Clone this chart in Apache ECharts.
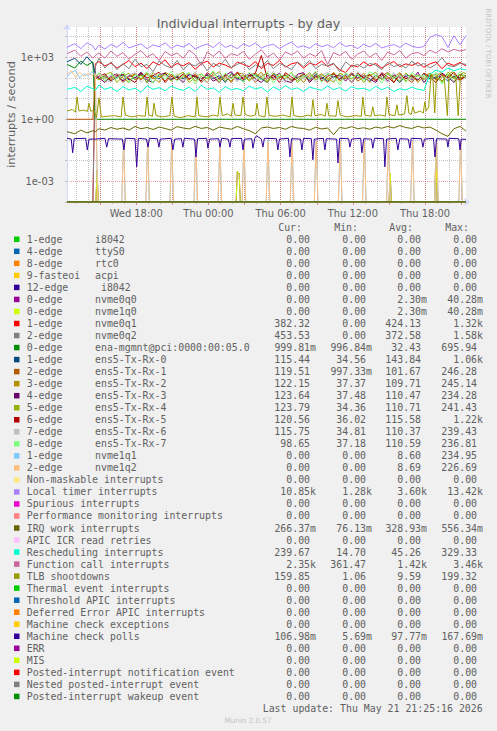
<!DOCTYPE html>
<html><head><meta charset="utf-8">
<script src="https://cdn.jsdelivr.net/npm/echarts@6/dist/echarts.min.js"></script>
<style>html,body{margin:0;padding:0;background:#F0F0F0;}#c{width:497px;height:731px;}</style>
</head><body><div id="c"></div>
<script>
// ---------- axis / tick data ----------
const X_MIN = 12.25, X_MAX = 45.4;       // hours since Wed 00:00
const Y_MIN = 1e-4, Y_MAX = 29000;
const minorGridHours = [13,14,15,16,17,18,19,20,21,22,23,24,25,26,27,28,29,30,31,32,33,34,35,36,37,38,39,40,41,42,43,44,45];
const majorGridHours = [15,18,21,24,27,30,33,36,39,42,45];
const xLabelHours = [18,24,30,36,42];
const xLabelTexts = ['Wed 18:00','Thu 00:00','Thu 06:00','Thu 12:00','Thu 18:00'];
const yLabelExps = [-3,0,3];
const yLabelTexts = ['1e-03','1e+00','1e+03'];

// ---------- common time grid (hours) ----------
const hours = [
 12.25,12.9,13.4,13.9,14.4,14.6,14.9,15.4,15.9,16.4,
 16.9,17.4,17.9,18.4,18.9,19.4,19.9,20.4,20.9,21.4,
 21.9,22.4,22.9,23.4,23.9,24.4,24.9,25.4,25.9,26.4,
 26.9,27.4,27.9,28.4,28.9,29.4,29.9,30.4,30.9,31.4,
 31.9,32.4,32.9,33.4,33.9,34.4,34.9,35.4,35.9,36.4,
 36.9,37.4,37.9,38.4,38.9,39.4,39.9,40.4,40.9,41.4,
 41.9,42.4,42.9,43.4,43.9,44.4,44.9,45.4];

const zeroHours = [12.25, 45.4];
const zeroValues = [0, 0];

const nvme0q1 = [
 0,0,0,0,0,480,620,380,520,300,
 450,700,350,520,280,600,420,750,330,500,
 380,560,260,480,650,340,520,420,300,580,
 450,350,620,280,500,400,700,330,480,560,
 300,520,420,650,360,480,250,180,420,340,
 600,380,500,300,450,620,350,480,400,550,
 330,480,600,280,520,400,560,382];
const nvme0q2 = [
 0,0,0,0,0,350,900,300,600,250,
 500,280,800,350,450,200,650,400,300,700,
 250,480,380,600,220,520,350,800,300,450,
 600,250,420,330,700,280,500,380,250,600,
 350,700,280,450,380,520,200,600,350,450,
 300,500,420,250,580,350,450,300,650,380,
 500,300,450,950,400,350,500,454];
const enaMgmnt = [
 450,300,650,400,600,1,1,1,1,1,
 1,1,1,1,1,1,1,1,1,1,
 1,1,1,1,1,1,1,1,1,1,
 1,1,1,1,1,1,1,1,1,1,
 1,1,1,1,1,1,1,1,1,1,
 1,1,1,1,1,1,1,1,1,1,
 1,1,1,1,1,1,1,0.9998];
const txRx0 = [
 600,900,450,1060,500,150,90,130,70,110,
 140,80,100,160,60,130,90,170,80,120,
 90,140,110,70,150,90,130,60,160,100,
 70,120,140,90,60,160,100,130,80,110,
 130,80,150,110,70,120,90,160,60,140,
 100,70,130,90,150,110,60,140,120,80,
 150,90,110,130,70,120,100,115];
const txRx1 = [
 1,1,1,1,1,110,160,70,100,140,
 60,120,150,80,180,90,120,70,150,100,
 140,80,160,60,110,190,80,130,60,170,
 90,140,60,120,170,80,110,140,70,100,
 160,70,130,100,60,150,120,90,180,70,
 110,150,80,120,190,60,130,100,60,140,
 90,120,150,70,130,100,80,120];
const txRx2 = [
 null,null,null,null,null,140,90,110,80,150,
 100,60,170,90,150,110,60,190,130,80,
 110,170,70,120,60,160,90,110,70,180,
 150,80,110,190,70,120,100,150,80,130,
 60,140,100,160,80,190,70,110,140,90,
 170,60,110,140,90,100,180,70,150,60,
 120,170,80,110,150,70,100,122];
const txRx3 = [
 null,null,null,null,null,130,100,60,120,160,
 70,130,100,190,80,60,140,170,90,110,
 60,150,120,90,140,70,100,130,200,80,
 110,160,90,60,130,100,170,70,60,150,
 180,60,120,90,150,110,140,70,160,100,
 130,90,60,160,70,140,100,120,80,190,
 60,130,90,170,110,60,150,124];
const txRx4 = [
 null,null,null,null,null,110,80,140,190,60,
 120,170,80,140,60,180,110,150,70,130,
 190,60,110,160,90,130,200,70,150,100,
 130,70,160,110,60,170,120,90,190,60,
 110,180,80,140,100,60,170,120,90,150,
 60,130,190,80,150,120,70,170,100,140,
 80,160,120,60,190,100,140,124];
const txRx5 = [
 null,null,null,null,null,90,120,160,70,130,
 150,90,60,170,100,130,190,60,120,80,
 160,90,130,70,180,110,60,150,100,190,
 80,130,170,1220,90,140,60,180,110,75,
 150,100,190,70,120,160,85,130,60,170,
 100,140,70,180,110,60,160,90,130,75,
 170,110,60,150,100,190,80,121];
const txRx6 = [
 null,null,null,null,null,100,150,90,60,170,
 80,140,180,60,120,200,75,130,95,160,
 70,110,190,85,60,140,175,90,120,65,
 180,100,70,150,90,210,80,60,140,120,
 90,170,60,130,190,70,110,150,60,200,
 120,80,160,100,60,180,90,140,70,150,
 100,60,170,120,80,150,60,116];
const txRx7 = [
 null,null,null,null,null,120,180,70,150,90,
 200,60,140,110,190,55,160,85,210,70,
 130,180,50,150,100,220,65,170,90,140,
 60,190,120,80,200,55,150,110,175,70,
 140,95,210,60,160,120,45,180,100,150,
 75,200,130,55,170,90,150,60,190,110,
 140,80,190,50,160,70,200,99];
const localTimer = [
 3000,4500,2600,5000,3500,2200,3800,2500,4200,3000,
 5200,2800,3600,4400,2600,4000,3200,5000,2700,3900,
 3100,4600,2500,3500,4300,2900,5200,3000,3800,2600,
 4400,3300,4900,2800,3700,4200,2600,3900,5500,3000,
 3600,2700,4500,3200,4000,2900,5100,3300,3800,2600,
 4300,3100,4700,2800,3500,4100,3000,4800,3400,2900,
 3300,9000,12500,10000,3000,11000,4000,10850];
const irqWork = [
 0.25,0.2,0.3,0.22,0.28,0.25,0.35,0.3,0.4,0.33,
 0.38,0.3,0.45,0.35,0.4,0.32,0.42,0.36,0.3,0.44,
 0.38,0.34,0.46,0.36,0.4,0.3,0.42,0.37,0.33,0.45,
 0.35,0.28,0.2,0.38,0.42,0.36,0.4,0.33,0.45,0.38,
 0.36,0.3,0.41,0.34,0.38,0.18,0.4,0.36,0.44,0.35,
 0.39,0.33,0.42,0.37,0.45,0.38,0.5,0.4,0.36,0.46,
 0.38,0.42,0.3,0.2,0.15,0.35,0.45,0.27];
const rescheduling = [
 28,35,22,40,30,25,45,28,35,22,
 38,26,32,20,42,28,34,24,40,30,
 25,36,22,44,28,33,20,38,27,31,
 24,40,29,35,21,37,26,42,28,33,
 22,36,30,25,41,27,34,23,38,29,
 32,24,39,27,35,22,30,26,36,28,
 25,150,240,190,300,220,280,240];
const functionCall = [
 1500,2200,1100,1800,900,1200,1600,900,2000,1100,
 1700,800,1400,2100,1000,1500,700,1900,1200,1600,
 900,2200,1300,400,1800,1100,2000,900,1500,1200,
 1900,800,1400,2300,1000,1600,750,1800,1300,2000,
 900,1500,1100,2100,450,1700,1200,1900,800,1400,
 2000,1000,1600,700,1800,1300,2100,900,1500,1700,
 1200,2200,1600,2600,1800,2400,2000,2350];

// ---------- series read as [hour, value] pairs (narrow spikes / dips) ----------
const nvmeQ0Pairs = [[12.25,0],[14.65,0],[14.75,0.0035],[14.85,0],[26.3,0],[26.4,0.003],[26.55,0.0025],[26.65,0],
 [39.0,0],[39.1,0.0025],[39.2,0],[42.8,0],[42.9,0.04],[43.0,0],[45.4,0]];
const nvme1q1Pairs = [[12.25,120],[12.6,180],[12.95,235],[13.3,100],[13.65,160],[14.0,130],[14.35,200],[14.6,140],[14.8,0],
 [16.8,0],[16.95,0.1],[17.1,0],[18.8,0],[18.95,0.1],[19.1,0],[20.8,0],[20.95,0.1],[21.1,0],
 [22.8,0],[22.95,0.1],[23.1,0],[24.8,0],[24.95,0.1],[25.1,0],[26.8,0],[26.95,0.1],[27.1,0],
 [28.8,0],[28.95,0.1],[29.1,0],[30.8,0],[30.95,0.1],[31.1,0],[32.8,0],[32.95,0.1],[33.1,0],
 [34.8,0],[34.95,0.1],[35.1,0],[36.8,0],[36.95,0.1],[37.1,0],[38.8,0],[38.95,0.1],[39.1,0],
 [40.8,0],[40.95,0.1],[41.1,0],[42.8,0],[42.95,0.1],[43.1,0],[44.8,0],[44.95,0.1],[45.1,0],[45.4,0]];
const nvme1q2Pairs = [[12.25,150],[12.6,226],[12.95,110],[13.3,190],[13.65,120],[14.0,170],[14.35,130],[14.6,160],[14.8,0],
 [16.8,0],[16.95,0.09],[17.1,0],[18.8,0],[18.95,0.09],[19.1,0],[20.8,0],[20.95,0.09],[21.1,0],
 [22.8,0],[22.95,0.09],[23.1,0],[24.8,0],[24.95,0.09],[25.1,0],[26.8,0],[26.95,0.09],[27.1,0],
 [28.8,0],[28.95,0.09],[29.1,0],[30.8,0],[30.95,0.09],[31.1,0],[32.8,0],[32.95,0.09],[33.1,0],
 [34.8,0],[34.95,0.09],[35.1,0],[36.8,0],[36.95,0.09],[37.1,0],[38.8,0],[38.95,0.09],[39.1,0],
 [40.8,0],[40.95,0.09],[41.1,0],[42.8,0],[42.95,0.09],[43.1,0],[44.8,0],[44.95,0.09],[45.1,0],[45.4,0]];
const tlbPairs = [
 [12.25,2.5],[12.7,3],[12.95,2.2],[13.08,12],[13.25,2.5],[13.6,2.8],[13.95,2.4],[14.08,6],[14.22,2.5],[14.5,2.6],
 [14.7,1.2],[14.91,11],[15.1,1.3],[15.6,1.4],[16.2,1.5],[16.75,1.3],[16.9,12],[17.1,1.6],[17.6,1.3],[18.2,1.5],
 [18.75,1.4],[18.9,12],[19.05,1.6],[19.35,1.4],[19.48,6],[19.65,1.5],[20.2,1.3],[20.8,1.5],[20.97,12],[21.15,1.4],
 [21.7,1.2],[22.3,1.5],[22.9,1.3],[23.05,12],[23.2,1.5],[23.8,1.3],[24.4,1.6],[24.8,1.4],[24.96,12],[25.15,1.5],
 [25.6,1.8],[25.9,1.4],[26.04,6],[26.2,1.6],[26.7,1.5],[26.87,12],[27.05,1.7],[27.5,1.4],[27.9,1.6],[28.03,6],
 [28.2,1.5],[28.7,1.3],[28.86,12],[29.05,1.5],[29.6,1.4],[30.2,1.6],[30.8,1.3],[30.94,12],[31.1,1.5],[31.7,1.3],
 [32.3,1.6],[32.55,1.4],[32.68,9],[32.85,1.5],[33.4,1.7],[33.7,1.4],[33.85,6],[34.0,1.5],[34.6,1.4],[34.76,8],
 [34.95,1.6],[35.5,1.3],[36.2,1.5],[36.7,1.4],[36.83,12],[37.0,1.6],[37.5,1.4],[37.66,4],[37.8,1.5],[38.3,1.6],
 [38.7,1.4],[38.83,12],[39.0,1.7],[39.5,1.5],[39.66,5],[39.8,1.6],[40.3,1.8],[40.49,14],[40.65,2],[40.85,1.7],
 [40.99,4],[41.15,2],[41.6,2.5],[41.85,2],[41.98,7],[42.1,2.5],[42.3,4],[42.5,150],[42.65,100],[42.8,2],
 [42.95,120],[43.3,180],[43.6,90],[43.85,1.5],[44.0,160],[44.3,199],[44.55,120],[44.75,1.5],[44.95,150],[45.2,180],[45.4,160]];
const mcPollsPairs = [
 [12.25,0.12],[12.6,0.11],[12.72,0.024],[12.85,0.115],[13.8,0.12],[13.94,0.033],[14.08,0.11],[14.6,0.11],
 [15.4,0.12],[15.55,0.045],[15.7,0.115],[16.85,0.11],[16.98,0.033],[17.1,0.12],[17.9,0.115],[18.04,0.005],[18.18,0.12],
 [18.85,0.11],[18.98,0.045],[19.1,0.12],[19.75,0.115],[19.89,0.045],[20.0,0.11],[20.9,0.12],[21.05,0.033],[21.2,0.11],
 [21.75,0.115],[21.88,0.045],[22.0,0.12],[22.85,0.11],[22.96,0.015],[23.1,0.115],[23.85,0.12],[23.96,0.04],[24.1,0.11],
 [24.85,0.115],[24.96,0.045],[25.1,0.12],[25.65,0.11],[25.79,0.045],[25.9,0.115],[26.75,0.12],[26.87,0.033],[27.0,0.11],
 [27.6,0.115],[27.7,0.04],[27.85,0.12],[28.0,0.16],[28.4,0.11],[28.53,0.045],[28.65,0.12],[29.65,0.115],[29.77,0.033],[29.9,0.11],
 [30.65,0.12],[30.77,0.015],[30.9,0.115],[31.65,0.11],[31.77,0.033],[31.9,0.12],[32.55,0.115],[32.68,0.011],[32.8,0.11],
 [33.55,0.12],[33.68,0.033],[33.8,0.115],[34.65,0.11],[34.76,0.0077],[34.9,0.12],[35.65,0.115],[35.75,0.045],[35.9,0.11],
 [36.65,0.12],[36.75,0.024],[36.9,0.115],[37.55,0.11],[37.66,0.04],[37.8,0.12],[38.55,0.115],[38.66,0.005],[38.8,0.11],
 [39.6,0.12],[39.74,0.033],[39.9,0.115],[40.6,0.11],[40.74,0.04],[40.85,0.12],[41.7,0.115],[41.82,0.045],[41.95,0.11],
 [42.7,0.12],[42.82,0.015],[42.95,0.115],[43.8,0.11],[43.9,0.045],[44.0,0.12],[44.8,0.115],[44.9,0.033],[45.0,0.11],[45.4,0.107]];

// ---------- legend (names, devices, colours, statistics) ----------
const legendNames = ['1-edge','4-edge','8-edge','9-fasteoi','12-edge','0-edge','0-edge','1-edge','2-edge','0-edge',
 '1-edge','2-edge','3-edge','4-edge','5-edge','6-edge','7-edge','8-edge','1-edge','2-edge',
 'Non-maskable interrupts','Local timer interrupts','Spurious interrupts','Performance monitoring interrupts',
 'IRQ work interrupts','APIC ICR read retries','Rescheduling interrupts','Function call interrupts','TLB shootdowns',
 'Thermal event interrupts','Threshold APIC interrupts','Deferred Error APIC interrupts','Machine check exceptions',
 'Machine check polls','ERR','MIS','Posted-interrupt notification event','Nested posted-interrupt event','Posted-interrupt wakeup event'];
const legendDevices = ['i8042','ttyS0','rtc0','acpi',' i8042','nvme0q0','nvme1q0','nvme0q1','nvme0q2','ena-mgmnt@pci:0000:00:05.0',
 'ens5-Tx-Rx-0','ens5-Tx-Rx-1','ens5-Tx-Rx-2','ens5-Tx-Rx-3','ens5-Tx-Rx-4','ens5-Tx-Rx-5','ens5-Tx-Rx-6','ens5-Tx-Rx-7','nvme1q1','nvme1q2',
 '','','','','','','','','','','','','','','','','','',''];
const legendColors = ['#00CC00','#0066B3','#FF8000','#FFCC00','#330099','#990099','#CCFF00','#FF0000','#808080',
 '#008F00','#00487D','#B35A00','#B38F00','#6B006B','#8FB300','#B30000','#BEBEBE','#80FF80','#80C9FF','#FFC080',
 '#FFE680','#AA80FF','#EE00CC','#FF8080','#666600','#FFBFFF','#00FFCC','#CC6699','#999900',
 '#00CC00','#0066B3','#FF8000','#FFCC00','#330099','#990099','#CCFF00','#FF0000','#808080','#008F00'];
const curVals = ['0.00','0.00','0.00','0.00','0.00','0.00','0.00','382.32','453.53','999.81m',
 '115.44','119.51','122.15','123.64','123.79','120.56','115.75','98.65','0.00','0.00',
 '0.00','10.85k','0.00','0.00','266.37m','0.00','239.67','2.35k','159.85',
 '0.00','0.00','0.00','0.00','106.98m','0.00','0.00','0.00','0.00','0.00'];
const minVals = ['0.00','0.00','0.00','0.00','0.00','0.00','0.00','0.00','0.00','996.84m',
 '34.56','997.33m','37.37','37.48','34.36','36.02','34.81','37.18','0.00','0.00',
 '0.00','1.28k','0.00','0.00','76.13m','0.00','14.70','361.47','1.06',
 '0.00','0.00','0.00','0.00','5.69m','0.00','0.00','0.00','0.00','0.00'];
const avgVals = ['0.00','0.00','0.00','0.00','0.00','2.30m','2.30m','424.13','372.58','32.43',
 '143.84','101.67','109.71','110.47','110.71','115.58','110.37','110.59','8.60','8.69',
 '0.00','3.60k','0.00','0.00','328.93m','0.00','45.26','1.42k','9.59',
 '0.00','0.00','0.00','0.00','97.77m','0.00','0.00','0.00','0.00','0.00'];
const maxVals = ['0.00','0.00','0.00','0.00','0.00','40.28m','40.28m','1.32k','1.58k','695.94',
 '1.06k','246.28','245.14','234.28','241.43','1.22k','239.43','236.81','234.95','226.69',
 '0.00','13.42k','0.00','0.00','556.34m','0.00','329.33','3.46k','199.32',
 '0.00','0.00','0.00','0.00','167.69m','0.00','0.00','0.00','0.00','0.00'];

// which data each legend row uses
const gridSeries = {7:nvme0q1,8:nvme0q2,9:enaMgmnt,10:txRx0,11:txRx1,12:txRx2,13:txRx3,14:txRx4,15:txRx5,16:txRx6,17:txRx7,
 21:localTimer,24:irqWork,26:rescheduling,27:functionCall};
const pairSeries = {5:nvmeQ0Pairs,6:nvmeQ0Pairs,18:nvme1q1Pairs,19:nvme1q2Pairs,28:tlbPairs,33:mcPollsPairs};

Object.keys(gridSeries).forEach(k => { if (gridSeries[k].length !== hours.length) throw new Error('length mismatch row ' + k + ': ' + gridSeries[k].length); });

// ---------- build ----------
const clampLog = v => (v == null ? null : Math.max(v, Y_MIN)); // rrdtool draws zero at the bottom of a log graph
const series = legendNames.map((name, i) => {
  let data;
  if (gridSeries[i]) data = hours.map((h, j) => [h, clampLog(gridSeries[i][j])]);
  else if (pairSeries[i]) data = pairSeries[i].map(p => [p[0], clampLog(p[1])]);
  else data = zeroHours.map((h, j) => [h, clampLog(zeroValues[j])]);
  return {
    name: name + (legendDevices[i] ? ' ' + legendDevices[i].trim() : ''),
    type: 'line', data, showSymbol: false, symbol: 'none', connectNulls: false,
    lineStyle: { width: 1, color: legendColors[i] }, itemStyle: { color: legendColors[i] },
    emphasis: { disabled: true }, silent: true, animation: false, clip: true
  };
});

const FONT = 'DejaVu Sans', MONO = 'DejaVu Sans Mono', TXT = '#616161';
const CW = 5.96;
const rowY = k => 239.3 + 12.03 * k;
const colEdges = [316, 372, 427, 483];
const headerEdges = [302, 358, 413, 469];
const headers = ['Cur:', 'Min:', 'Avg:', 'Max:'];

const g = [];
const txt = (text, x, y, align, extra) => Object.assign({ type: 'text', x: x, y: y, silent: true,
  style: Object.assign({ text: text, fill: TXT, font: '9.9px "' + MONO + '"', align: align, textAlign: align,
    verticalAlign: 'middle', textVerticalAlign: 'middle' }, (extra && extra.style) || {}) }, extra ? { rotation: extra.rotation || 0 } : {});
headers.forEach((h, i) => g.push(txt(h, headerEdges[i], rowY(-1), 'right')));
legendNames.forEach((name, k) => {
  const y = rowY(k);
  g.push({ type: 'rect', silent: true, shape: { x: 14, y: y - 2.75, width: 5.5, height: 5.5 }, style: { fill: legendColors[k] } });
  g.push(txt(name, 26.7, y, 'left'));
  const dev = legendDevices[k];
  if (dev) g.push(txt(dev.trim(), 95 + (dev.length - dev.trimStart().length) * CW, y, 'left'));
  [curVals[k], minVals[k], avgVals[k], maxVals[k]].forEach((v, c) => {
    const hasSuffix = /[mk]$/.test(v);
    g.push(txt(v, hasSuffix ? colEdges[c] : colEdges[c] - CW, y, 'right'));
  });
});
g.push(txt('Last update: Thu May 21 21:25:16 2026', 482.7, rowY(39), 'right'));
g.push(txt('Munin 2.0.57', 248, 720, 'center', { style: { font: '7.2px "' + FONT + '"', fill: '#c4c4c4' } }));
g.push(txt('RRDTOOL / TOBI OETIKER', 487.5, 53.5, 'center', { rotation: -Math.PI / 2, style: { font: '7px "' + FONT + '"', fill: '#c4c4c4' } }));
// vertical axis unit title
g.push(txt('interrupts / second', 11.5, 114.5, 'center', { rotation: Math.PI / 2, style: { font: '11.3px "' + FONT + '"' } }));

const GRID = 'rgba(143,143,143,0.55)', MGRID = 'rgba(222,79,79,0.55)', AXIS = '#CFD6F8';

const option = {
  backgroundColor: '#F0F0F0',
  animation: false,
  title: { text: 'Individual interrupts - by day', left: 'center', top: 12,
    textStyle: { fontFamily: FONT, fontSize: 12.7, fontWeight: 'normal', color: TXT } },
  grid: { left: 67, top: 27, width: 399, height: 175, show: true, backgroundColor: '#FFFFFF', borderWidth: 0,
    containLabel: false, outerBoundsMode: 'none' },
  xAxis: [
    { type: 'value', min: X_MIN, max: X_MAX, position: 'bottom',
      axisLine: { show: true, lineStyle: { color: AXIS, width: 1 }, symbol: ['none', 'arrow'], symbolSize: [6, 6], symbolOffset: [0, 4] },
      axisTick: { show: true, customValues: minorGridHours, length: 2, lineStyle: { color: GRID } },
      axisLabel: { show: false },
      splitLine: { show: true, lineStyle: { color: GRID, width: 1, type: [1, 1] } } },
    { type: 'value', min: X_MIN, max: X_MAX, position: 'bottom',
      axisLine: { show: false },
      axisTick: { show: true, customValues: majorGridHours, length: 3, lineStyle: { color: MGRID } },
      axisLabel: { show: true, customValues: xLabelHours, margin: 6, color: TXT, fontFamily: FONT, fontSize: 9.9,
        formatter: v => { const i = xLabelHours.findIndex(h => Math.abs(h - v) < 1e-6); return i >= 0 ? xLabelTexts[i] : ''; } },
      splitLine: { show: true, lineStyle: { color: MGRID, width: 1, type: [1, 1] } } }
  ],
  yAxis: {
    type: 'log', logBase: 10, min: Y_MIN, max: Y_MAX,
    axisLine: { show: true, lineStyle: { color: AXIS, width: 1 }, symbol: ['none', 'arrow'], symbolSize: [6, 6], symbolOffset: [0, 3] },
    axisTick: { show: true, length: 2, lineStyle: { color: GRID } },
    axisLabel: { margin: 13, color: TXT, fontFamily: FONT, fontSize: 9.9,
      formatter: v => { const l = Math.log10(v), e = Math.round(l); if (Math.abs(l - e) > 0.01) return ''; const i = yLabelExps.indexOf(e); return i >= 0 ? yLabelTexts[i] : ''; } },
    splitLine: { show: true, showMaxLine: false, lineStyle: { color: [GRID, MGRID, GRID], width: 1, type: [1, 1] } }
  },
  graphic: { elements: g },
  series: series
};

const chart = echarts.init(document.getElementById('c'), null, { renderer: 'svg', width: 497, height: 731 });
chart.setOption(option);
</script></body></html>
